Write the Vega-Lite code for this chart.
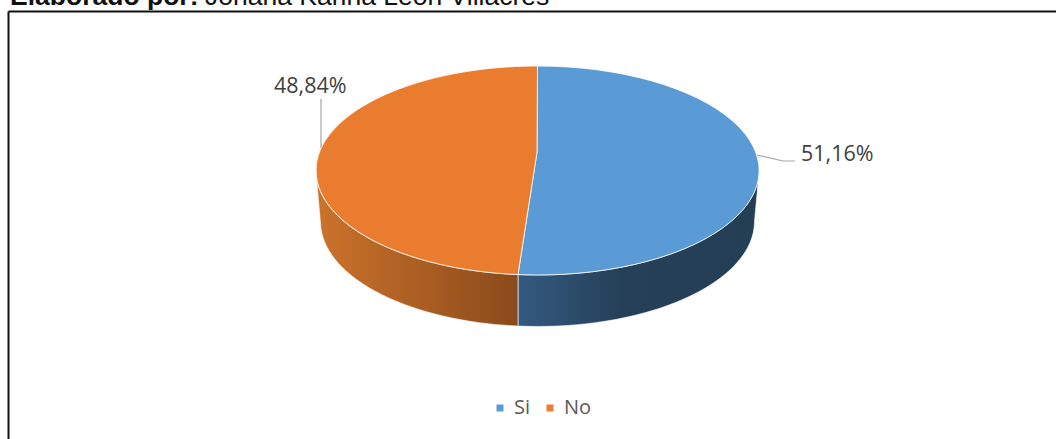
{
  "$schema": "https://vega.github.io/schema/vega-lite/v6.json",
  "width": 1048,
  "height": 428,
  "padding": {"left": 8, "top": 11, "right": 0, "bottom": 0},
  "autosize": {"type": "none"},
  "background": "white",
  "config": {"view": {"stroke": null}},
  "datasets": {
    "respuestas": [
      {"respuesta": "Si", "porcentaje": 51.16, "etiqueta": "51,16%"},
      {"respuesta": "No", "porcentaje": 48.84, "etiqueta": "48,84%"}
    ],
    "guias": [
      {"respuesta": "Si", "orden": 1, "px": 749, "py": 144},
      {"respuesta": "Si", "orden": 2, "px": 775, "py": 150},
      {"respuesta": "Si", "orden": 3, "px": 787, "py": 150},
      {"respuesta": "No", "orden": 1, "px": 313, "py": 137},
      {"respuesta": "No", "orden": 2, "px": 313, "py": 88}
    ],
    "encabezado": [
      {"parte": "Elaborado por:", "peso": "bold"},
      {"parte": "Johana Karina León Villacrés", "peso": "normal"}
    ]
  },
  "data": {"name": "respuestas"},
  "layer": [
    {
      "transform": [{"filter": "datum.respuesta === 'Si'"}],
      "mark": {
        "type": "point",
        "filled": true,
        "opacity": 1,
        "size": 4,
        "shape": "M-19.5,104.09 A221.5,104.5 0 0 0 221.1,6.28 L217,51 A217,105 0 0 1 -19.5,155.57 Z",
        "stroke": "#ffffff",
        "strokeWidth": 0.6,
        "fill": {
          "x1": 0, "y1": 0, "x2": 1, "y2": 0,
          "gradient": "linear",
          "stops": [
            {"offset": 0, "color": "#345a80"},
            {"offset": 0.43, "color": "#254058"},
            {"offset": 1, "color": "#243e54"}
          ]
        }
      },
      "encoding": {
        "x": {
          "datum": 529.5,
          "type": "quantitative",
          "scale": {"domain": [0, 1048], "range": [0, 1048], "nice": false},
          "axis": {"orient": "top", "title": null, "labels": false, "ticks": false, "grid": false, "domainColor": "#111111", "domainWidth": 2}
        },
        "y": {
          "datum": 159.5,
          "type": "quantitative",
          "scale": {"domain": [0, 428], "range": [0, 428], "nice": false},
          "axis": {"orient": "left", "title": null, "labels": false, "ticks": false, "grid": false, "domainColor": "#111111", "domainWidth": 2}
        }
      }
    },
    {
      "transform": [{"filter": "datum.respuesta === 'No'"}],
      "mark": {
        "type": "point",
        "filled": true,
        "opacity": 1,
        "size": 4,
        "shape": "M-19.5,104.09 A221.5,104.5 0 0 1 -221.1,6.28 L-216.7,56.5 A217,105 0 0 0 -19.5,155.57 Z",
        "stroke": "#ffffff",
        "strokeWidth": 0.6,
        "fill": {
          "x1": 0, "y1": 0, "x2": 1, "y2": 0,
          "gradient": "linear",
          "stops": [
            {"offset": 0, "color": "#cc732b"},
            {"offset": 1, "color": "#8a4a1b"}
          ]
        }
      },
      "encoding": {
        "x": {"datum": 529.5, "type": "quantitative"},
        "y": {"datum": 159.5, "type": "quantitative"}
      }
    },
    {
      "transform": [{"filter": "datum.respuesta === 'Si'"}],
      "mark": {
        "type": "point",
        "filled": true,
        "opacity": 1,
        "size": 4,
        "stroke": "#ffffff",
        "strokeWidth": 0.8,
        "shape": "M0,-104.5 A221.5,104.5 0 1 1 -19.5,104.09 L-0.5,-18.5 Z"
      },
      "encoding": {
        "x": {"datum": 529.5, "type": "quantitative"},
        "y": {"datum": 159.5, "type": "quantitative"},
        "color": {
          "field": "respuesta",
          "type": "nominal",
          "scale": {"domain": ["Si", "No"], "range": ["#5b9bd5", "#ea7c30"]},
          "legend": {
            "orient": "none",
            "legendX": 482,
            "legendY": 387,
            "direction": "horizontal",
            "title": null,
            "symbolType": "square",
            "symbolSize": 49,
            "symbolStrokeWidth": 0,
            "labelFont": "Open Sans",
            "labelFontSize": 20,
            "labelColor": "#595959",
            "columnPadding": 9,
            "labelOffset": 4,
            "encode": {"symbols": {"update": {"shape": {"value": "square"}, "size": {"value": 49}, "strokeWidth": {"value": 0}}}}
          }
        }
      }
    },
    {
      "transform": [{"filter": "datum.respuesta === 'No'"}],
      "mark": {
        "type": "point",
        "filled": true,
        "opacity": 1,
        "size": 4,
        "stroke": "#ffffff",
        "strokeWidth": 0.8,
        "shape": "M0,-104.5 A221.5,104.5 0 0 0 -19.5,104.09 L-0.5,-18.5 Z"
      },
      "encoding": {
        "x": {"datum": 529.5, "type": "quantitative"},
        "y": {"datum": 159.5, "type": "quantitative"},
        "color": {"field": "respuesta", "type": "nominal"}
      }
    },
    {
      "data": {"name": "guias"},
      "mark": {"type": "line", "color": "#a6a6a6", "strokeWidth": 1.2},
      "encoding": {
        "x": {"field": "px", "type": "quantitative"},
        "y": {"field": "py", "type": "quantitative"},
        "detail": {"field": "respuesta"},
        "order": {"field": "orden"}
      }
    },
    {
      "transform": [{"filter": "datum.respuesta === 'Si'"}],
      "mark": {"type": "text", "font": "Open Sans", "fontSize": 21.5, "color": "#404040", "align": "left", "baseline": "middle"},
      "encoding": {
        "x": {"datum": 793, "type": "quantitative"},
        "y": {"datum": 143.5, "type": "quantitative"},
        "text": {"field": "etiqueta"}
      }
    },
    {
      "transform": [{"filter": "datum.respuesta === 'No'"}],
      "mark": {"type": "text", "font": "Open Sans", "fontSize": 21.5, "color": "#404040", "align": "left", "baseline": "middle"},
      "encoding": {
        "x": {"datum": 266, "type": "quantitative"},
        "y": {"datum": 75.5, "type": "quantitative"},
        "text": {"field": "etiqueta"}
      }
    },
    {
      "data": {"name": "encabezado"},
      "transform": [{"filter": "datum.peso === 'bold'"}],
      "mark": {"type": "text", "font": "Liberation Sans", "fontSize": 26.5, "fontWeight": "bold", "color": "#111111", "align": "left", "baseline": "alphabetic"},
      "encoding": {
        "x": {"datum": 2, "type": "quantitative"},
        "y": {"datum": -6, "type": "quantitative"},
        "text": {"field": "parte"}
      }
    },
    {
      "data": {"name": "encabezado"},
      "transform": [{"filter": "datum.peso === 'normal'"}],
      "mark": {"type": "text", "font": "Liberation Sans", "fontSize": 26.5, "fontWeight": "normal", "color": "#111111", "align": "left", "baseline": "alphabetic"},
      "encoding": {
        "x": {"datum": 197, "type": "quantitative"},
        "y": {"datum": -6, "type": "quantitative"},
        "text": {"field": "parte"}
      }
    }
  ]
}
